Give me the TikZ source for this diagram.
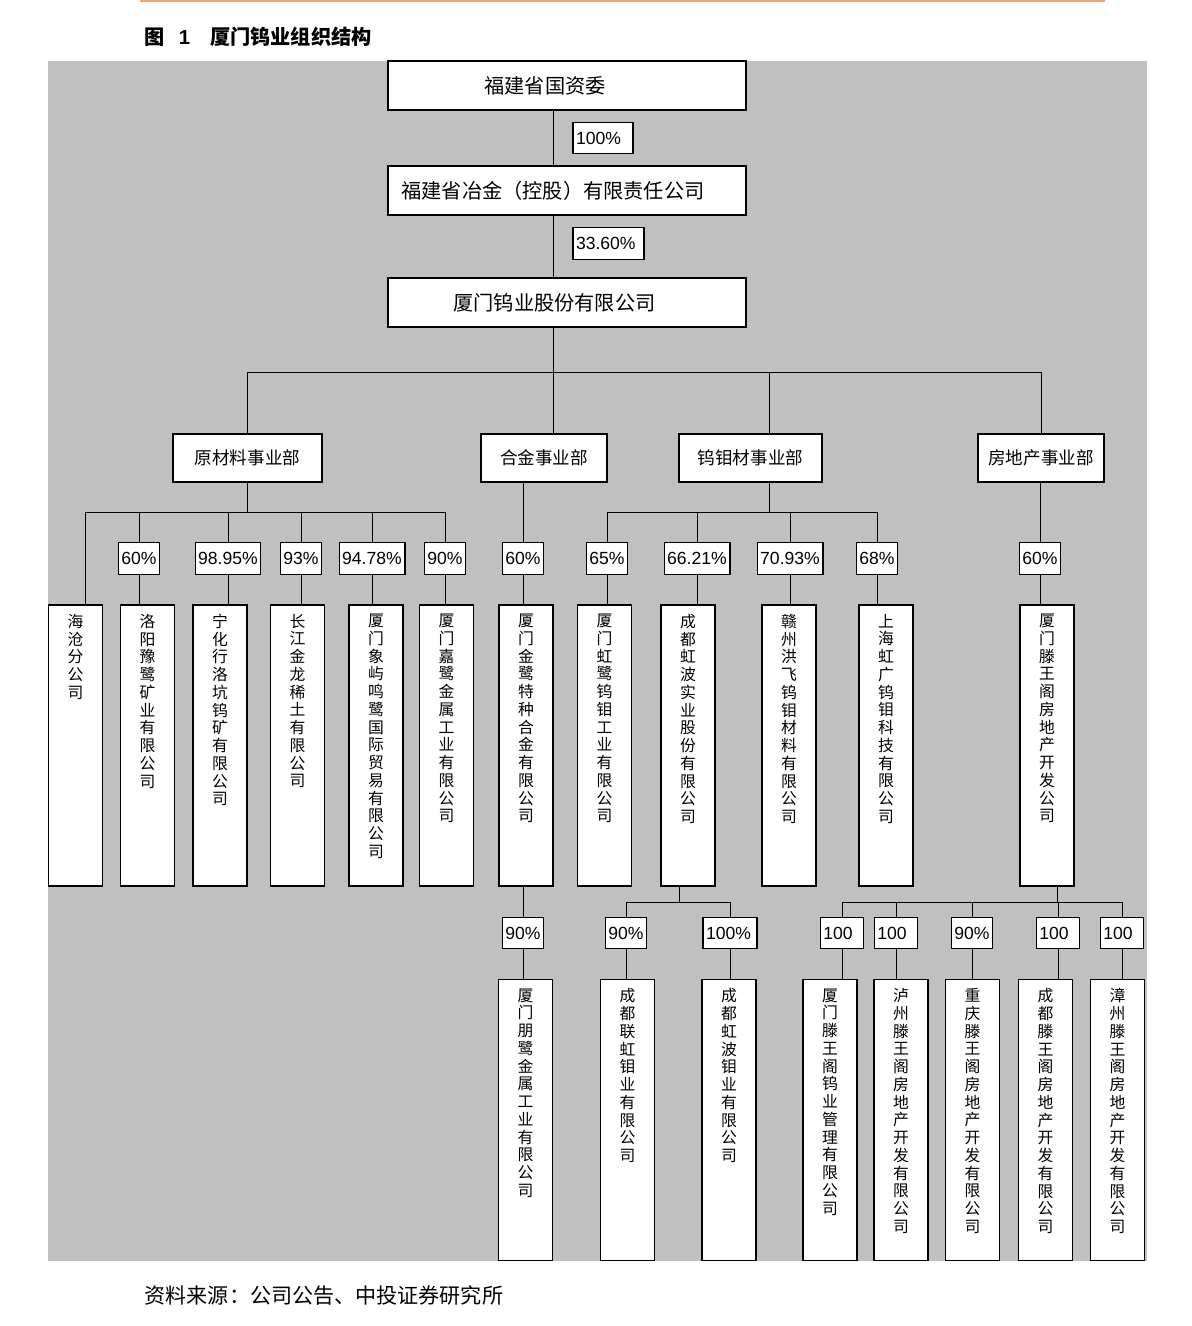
\documentclass[tikz,border=0pt]{standalone}
\usepackage{fontspec}
\setmainfont{Noto Sans CJK SC}
\newfontfamily\pctfont{Liberation Sans}
\usepackage{tikz}
\usetikzlibrary{backgrounds}
\definecolor{panel}{HTML}{C0C0C0}
\definecolor{topline}{HTML}{F5A571}
\def\vstk#1{\ifx\relax#1\else#1\par\expandafter\vstk\fi}
\newcommand\vname[1]{\parbox[t][5.26cm][t]{0.6cm}{\centering\fontsize{9pt}{10.1pt}\selectfont\vstk#1\relax}}

\begin{document}
\begin{tikzpicture}[
  x=0.02cm, y=-0.02cm, line width=0.8pt,
  headbox/.style={draw, fill=white, minimum width=7.16cm, minimum height=0.98cm,
                  font=\fontsize{11.5pt}{13pt}\selectfont},
  deptbox/.style={draw, fill=white, minimum height=0.96cm, inner xsep=0.05cm,
                  font=\fontsize{10pt}{12pt}\selectfont},
  pct/.style={draw, fill=white, minimum height=0.63cm, inner xsep=0.06cm, inner ysep=0pt,
              font=\pctfont\fontsize{10pt}{12pt}\selectfont},
  labw/.style={text width=#1, align=left},
  unitbox/.style={draw, fill=white, minimum width=1.08cm, minimum height=5.62cm,
                  inner xsep=0pt, inner ysep=0.18cm}
]
\useasboundingbox (0,0) rectangle (1191,1326);
\node[anchor=west, inner sep=0pt, font=\bfseries\fontsize{11.5pt}{14pt}\selectfont] (title) at (144,37)
  {图\hspace{0.28cm}{\pctfont 1}\hspace{0.4cm}厦门钨业组织结构};
\node[anchor=west, inner sep=0pt, font=\fontsize{12pt}{14pt}\selectfont] (source) at (144,1295)
  {资料来源：公司公告、中投证券研究所};

\node[headbox] (sasac) at (567,85.5) {\hspace{-0.88cm}福建省国资委};
\node[pct, labw=1.08cm] (p100) at (603,138) {100\%};
\node[headbox] (metal) at (567,190.5) {\hspace{-0.56cm}福建省冶金（控股）有限责任公司};
\node[pct, labw=1.30cm] (p336) at (608.5,243.5) {33.60\%};
\node[headbox] (xtc) at (567,302.5) {\hspace{-0.5cm}厦门钨业股份有限公司};

\node[deptbox, minimum width=2.98cm] (raw) at (247.5,458) {原材料事业部};
\node[deptbox, minimum width=2.52cm] (alloy) at (544,458) {合金事业部};
\node[deptbox, minimum width=2.86cm] (wmo) at (750.5,458) {钨钼材事业部};
\node[deptbox, minimum width=2.52cm] (estate) at (1041,458) {房地产事业部};

\node[pct] (r60) at (139,558.5) {60\%};
\node[pct] (r9895) at (228,558.5) {98.95\%};
\node[pct] (r93) at (301,558.5) {93\%};
\node[pct] (r9478) at (372,558.5) {94.78\%};
\node[pct] (r90) at (445,558.5) {90\%};
\node[pct] (a60) at (523,558.5) {60\%};
\node[pct] (w65) at (607,558.5) {65\%};
\node[pct] (w6621) at (697,558.5) {66.21\%};
\node[pct] (w7093) at (790,558.5) {70.93\%};
\node[pct] (w68) at (877,558.5) {68\%};
\node[pct] (e60) at (1040,558.5) {60\%};

\node[unitbox] (haicang) at (75.5,745.5) {\vname{海沧分公司}};
\node[unitbox] (luoyang) at (147.5,745.5) {\vname{洛阳豫鹭矿业有限公司}};
\node[unitbox] (ninghua) at (220,745.5) {\vname{宁化行洛坑钨矿有限公司}};
\node[unitbox] (changjiang) at (297.5,745.5) {\vname{长江金龙稀土有限公司}};
\node[unitbox] (xiangyu) at (376,745.5) {\vname{厦门象屿鸣鹭国际贸易有限公司}};
\node[unitbox] (jialu) at (446.5,745.5) {\vname{厦门嘉鹭金属工业有限公司}};
\node[unitbox] (jinlu) at (526,745.5) {\vname{厦门金鹭特种合金有限公司}};
\node[unitbox] (honglu) at (604.5,745.5) {\vname{厦门虹鹭钨钼工业有限公司}};
\node[unitbox] (hongbo) at (688,745.5) {\vname{成都虹波实业股份有限公司}};
\node[unitbox] (hongfei) at (789,745.5) {\vname{赣州洪飞钨钼材料有限公司}};
\node[unitbox] (hongguang) at (886,745.5) {\vname{上海虹广钨钼科技有限公司}};
\node[unitbox] (tengwang) at (1047,745.5) {\vname{厦门滕王阁房地产开发公司}};

\node[pct] (a90) at (523,933) {90\%};
\node[pct] (h90) at (626,933) {90\%};
\node[pct, labw=0.96cm] (h100) at (730,933) {100\%};
\node[pct, labw=0.75cm] (t1) at (842,933) {100};
\node[pct, labw=0.75cm] (t2) at (896,933) {100};
\node[pct] (t3) at (972,933) {90\%};
\node[pct, labw=0.75cm] (t4) at (1058,933) {100};
\node[pct, labw=0.75cm] (t5) at (1122,933) {100};

\node[unitbox] (penglu) at (525.5,1120) {\vname{厦门朋鹭金属工业有限公司}};
\node[unitbox] (lianhong) at (627.5,1120) {\vname{成都联虹钼业有限公司}};
\node[unitbox] (hbmoly) at (729,1120) {\vname{成都虹波钼业有限公司}};
\node[unitbox] (twmgmt) at (830,1120) {\vname{厦门滕王阁钨业管理有限公司}};
\node[unitbox] (luzhou) at (901,1120) {\vname{泸州滕王阁房地产开发有限公司}};
\node[unitbox] (chongqing) at (972.5,1120) {\vname{重庆滕王阁房地产开发有限公司}};
\node[unitbox] (chengdu) at (1045.5,1120) {\vname{成都滕王阁房地产开发有限公司}};
\node[unitbox] (zhangzhou) at (1117.5,1120) {\vname{漳州滕王阁房地产开发有限公司}};

\coordinate (spine) at (553,0);
\coordinate (wmox) at (769,0);
\coordinate (hcx) at (85,0);
\coordinate (hbx) at (679,0);
\coordinate (twx) at (1057,0);
\coordinate (bus1) at (0,372);
\coordinate (bus2) at (0,512);
\coordinate (bus3) at (0,902);

\begin{pgfonlayer}{background}
\fill[panel] (48,61) rectangle (1147,1261);
\draw[topline, line width=0.04cm] (140,1) -- (1105,1);
\draw (spine |- sasac.south) -- (spine |- alloy.north);
\draw (raw.north) |- (estate.north |- bus1) -- (estate.north);
\draw (wmox |- bus1) -- (wmox |- wmo.north);
\draw (raw.south) -- (raw.south |- bus2);
\draw (hcx |- haicang.north) |- (r90 |- bus2) -- (r90 |- jialu.north);
\draw (r60 |- bus2) -- (r60 |- luoyang.north);
\draw (r9895 |- bus2) -- (r9895 |- ninghua.north);
\draw (r93 |- bus2) -- (r93 |- changjiang.north);
\draw (r9478 |- bus2) -- (r9478 |- xiangyu.north);
\draw (a60 |- alloy.south) -- (a60 |- jinlu.north);
\draw (a90 |- jinlu.south) -- (a90 |- penglu.north);
\draw (wmox |- wmo.south) -- (wmox |- bus2);
\draw (w65 |- honglu.north) |- (w68 |- bus2) -- (w68 |- hongguang.north);
\draw (w6621 |- bus2) -- (w6621 |- hongbo.north);
\draw (w7093 |- bus2) -- (w7093 |- hongfei.north);
\draw (e60 |- estate.south) -- (e60 |- tengwang.north);
\draw (hbx |- hongbo.south) -- (hbx |- bus3);
\draw (h90 |- lianhong.north) |- (h100 |- bus3) -- (h100 |- hbmoly.north);
\draw (twx |- tengwang.south) -- (twx |- bus3);
\draw (t1 |- twmgmt.north) |- (t5 |- bus3) -- (t5 |- zhangzhou.north);
\draw (t2 |- bus3) -- (t2 |- luzhou.north);
\draw (t3 |- bus3) -- (t3 |- chongqing.north);
\draw (t4 |- bus3) -- (t4 |- chengdu.north);
\end{pgfonlayer}
\end{tikzpicture}
\end{document}
